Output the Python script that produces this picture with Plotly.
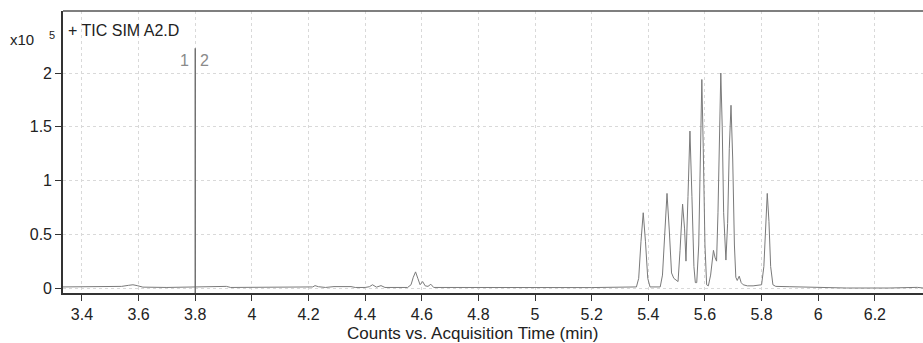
import plotly.graph_objects as go

# Acquisition time (min) and counts (x10^5)
times = [3.333, 3.50, 3.54, 3.565, 3.58, 3.595, 3.615, 3.70, 3.855, 3.87, 3.91, 3.925, 4.035, 4.04, 4.05,
         4.20, 4.215, 4.223, 4.235, 4.26, 4.29, 4.35, 4.365, 4.40, 4.415, 4.426, 4.44, 4.456, 4.47,
         4.55, 4.562, 4.570, 4.578, 4.586, 4.594, 4.603, 4.612, 4.622, 4.632, 4.642, 4.80, 5.00, 5.20,
         5.358, 5.366, 5.374, 5.382, 5.390, 5.398, 5.406,
         5.442, 5.450, 5.458, 5.466, 5.474, 5.482, 5.490, 5.500, 5.505,
         5.512, 5.521, 5.528, 5.533, 5.540, 5.547, 5.554, 5.561, 5.566,
         5.571, 5.578, 5.584, 5.589, 5.594, 5.600, 5.606,
         5.612, 5.620, 5.626, 5.630, 5.636, 5.641, 5.646, 5.651, 5.656, 5.661, 5.666, 5.674,
         5.680, 5.686, 5.692, 5.698, 5.704, 5.709, 5.714, 5.721, 5.728, 5.735,
         5.75, 5.77, 5.79, 5.800, 5.808, 5.814, 5.820, 5.826, 5.832, 5.840, 5.85,
         5.90, 5.95, 6.00, 6.05, 6.10, 6.25, 6.30, 6.35, 6.37]
counts = [0.010, 0.010, 0.015, 0.025, 0.030, 0.022, 0.008, 0.005, 0.008, 0.015, 0.015, 0.005, 0.005, 0.012, 0.005,
          0.005, 0.010, 0.022, 0.012, 0.005, 0.013, 0.013, 0.005, 0.005, 0.012, 0.030, 0.008, 0.022, 0.005,
          0.005, 0.030, 0.100, 0.150, 0.090, 0.030, 0.060, 0.020, 0.015, 0.035, 0.005, 0.003, 0.004, 0.004,
          0.010, 0.090, 0.430, 0.700, 0.430, 0.090, 0.010,
          0.010, 0.120, 0.540, 0.880, 0.540, 0.140, 0.090, 0.070, 0.060,
          0.350, 0.780, 0.550, 0.250, 0.850, 1.460, 0.850, 0.200, 0.050,
          0.050, 0.400, 1.300, 1.940, 1.300, 0.400, 0.030,
          0.020, 0.120, 0.300, 0.350, 0.280, 0.250, 0.700, 1.500, 2.000, 1.500, 0.700, 0.260,
          0.600, 1.300, 1.700, 1.200, 0.400, 0.100, 0.070, 0.110, 0.050, 0.030,
          0.020, 0.020, 0.025, 0.030, 0.200, 0.620, 0.880, 0.620, 0.200, 0.030, 0.015,
          0.012, 0.008, 0.005, 0.005, 0.000, 0.000, 0.004, 0.006, 0.000]

x_ticks = [3.4, 3.6, 3.8, 4.0, 4.2, 4.4, 4.6, 4.8, 5.0, 5.2, 5.4, 5.6, 5.8, 6.0, 6.2]
x_tick_labels = ["3.4", "3.6", "3.8", "4", "4.2", "4.4", "4.6", "4.8", "5", "5.2",
                 "5.4", "5.6", "5.8", "6", "6.2"]
y_ticks = [0, 0.5, 1, 1.5, 2]
y_tick_labels = ["0", "0.5", "1", "1.5", "2"]

marker_time = 3.8
marker_top = 2.23

FONT = "Liberation Sans, Arial, sans-serif"
DARK = "#222222"

PL, PT, PB = 63, 11, 50
PW, PH = 923 - PL, 343 - PT - PB


def px_x(px):
    return (px - PL) / PW


def px_y(py):
    return (343 - PB - py) / PH


fig = go.Figure()
fig.add_trace(go.Scatter(x=times, y=counts, mode="lines",
                         line=dict(color="#7a7a7a", width=1), hoverinfo="skip"))

xr = [3.333, 6.37]
yr = [-0.0465, 2.577]

fig.add_shape(type="line", x0=marker_time, x1=marker_time, y0=yr[0], y1=marker_top,
              xref="x", yref="y", line=dict(color="#6a6a6a", width=1.4))
fig.add_shape(type="line", x0=0, x1=1, y0=1, y1=1, xref="paper", yref="paper",
              line=dict(color="#555555", width=1.3))

fig.add_annotation(x=marker_time, y=2.12, xref="x", yref="y", text="1", showarrow=False,
                   xanchor="right", xshift=-4, font=dict(family=FONT, size=16, color="#8a8a8a"))
fig.add_annotation(x=marker_time, y=2.12, xref="x", yref="y", text="2", showarrow=False,
                   xanchor="left", xshift=3, font=dict(family=FONT, size=16, color="#8a8a8a"))

fig.add_annotation(x=px_x(66), y=px_y(31), xref="paper", yref="paper",
                   text="+ TIC SIM A2.D", showarrow=False, xanchor="left", yanchor="middle",
                   font=dict(family=FONT, size=16, color=DARK))
fig.add_annotation(x=px_x(36), y=px_y(39), xref="paper", yref="paper",
                   text="x10", showarrow=False, xanchor="right", yanchor="middle",
                   font=dict(family=FONT, size=15, color=DARK))
fig.add_annotation(x=px_x(47), y=px_y(35), xref="paper", yref="paper",
                   text="5", showarrow=False, xanchor="left", yanchor="middle",
                   font=dict(family=FONT, size=11, color=DARK))
fig.add_annotation(x=px_x(472), y=px_y(333), xref="paper", yref="paper",
                   text="Counts vs. Acquisition Time (min)", showarrow=False,
                   xanchor="center", yanchor="middle",
                   font=dict(family=FONT, size=17, color=DARK))

fig.update_layout(
    width=923, height=343,
    margin=dict(l=PL, r=0, t=PT, b=PB),
    paper_bgcolor="white", plot_bgcolor="white",
    showlegend=False,
    font=dict(family=FONT, size=16, color=DARK),
    xaxis=dict(range=xr, tickvals=x_ticks, ticktext=x_tick_labels,
               showgrid=True, gridcolor="#d9d9d9", griddash="dot", gridwidth=1,
               zeroline=False, showline=True, linecolor="#333333", linewidth=2.2,
               ticks="outside", ticklen=6, tickcolor="#333333",
               tickfont=dict(family=FONT, size=16, color=DARK)),
    yaxis=dict(range=yr, tickvals=y_ticks, ticktext=y_tick_labels,
               showgrid=True, gridcolor="#d9d9d9", griddash="dot", gridwidth=1,
               zeroline=False, showline=True, linecolor="#333333", linewidth=1.6,
               ticks="outside", ticklen=6, tickcolor="#333333",
               tickfont=dict(family=FONT, size=16, color=DARK)),
)

fig.write_html("out.html", config={"displayModeBar": False},
               post_script="document.body.style.margin='0';")
